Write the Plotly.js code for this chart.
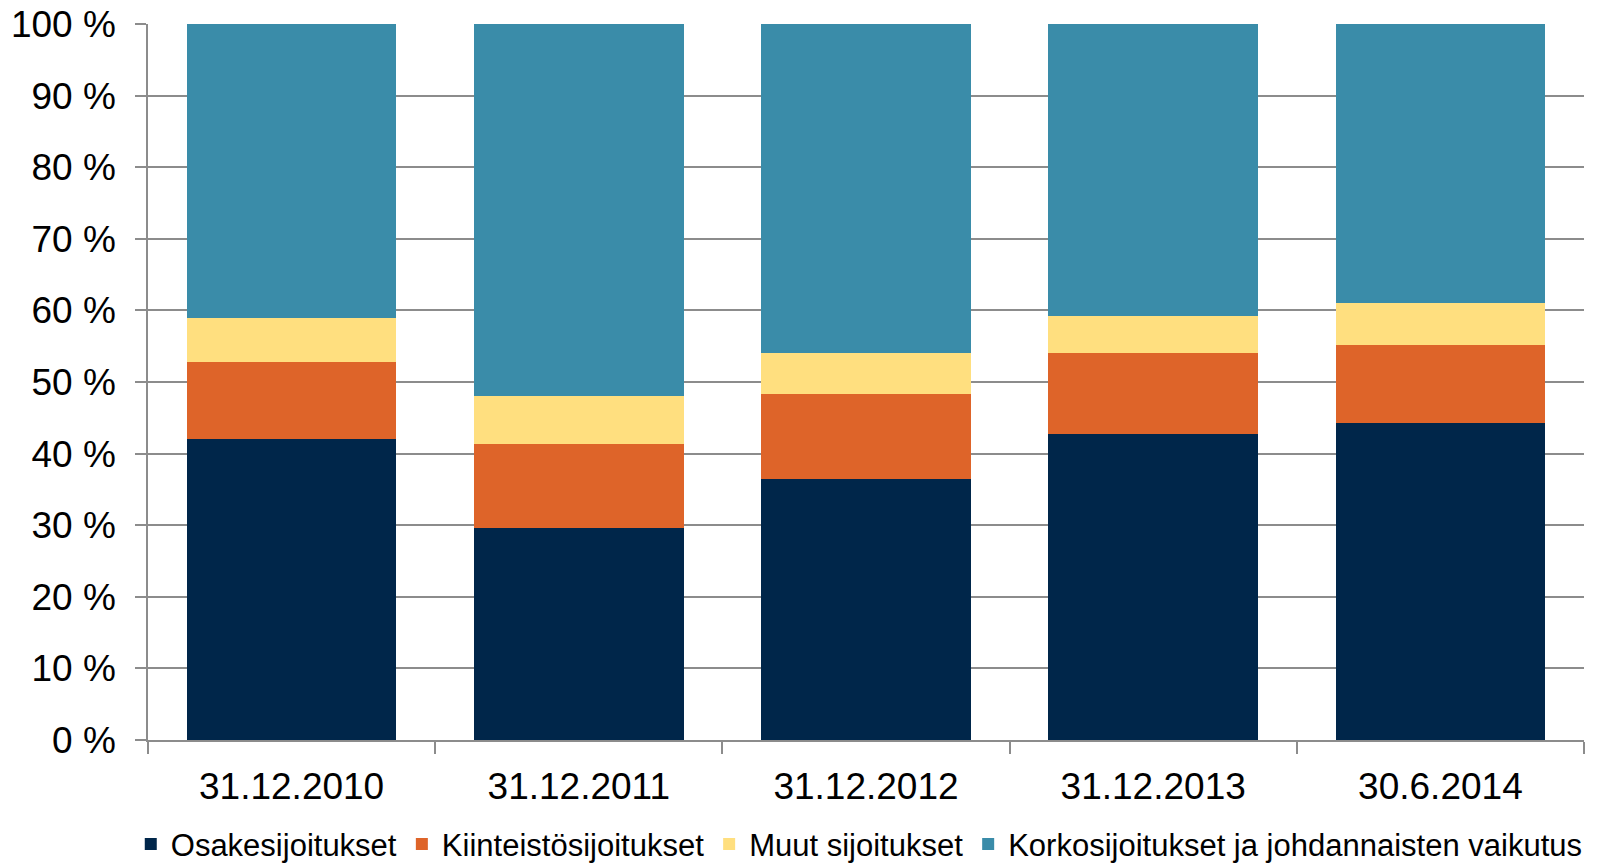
<!DOCTYPE html>
<html>
<head>
<meta charset="utf-8">
<script src="https://cdn.plot.ly/plotly-3.0.1.min.js"></script>
<style>html,body{margin:0;padding:0;background:#fff;}#chart{width:1597px;height:865px;}</style>
</head>
<body>
<div id="chart"></div>
<script>
const categories = ["31.12.2010", "31.12.2011", "31.12.2012", "31.12.2013", "30.6.2014"];
const seriesNames = ["Osakesijoitukset", "Kiinteistösijoitukset", "Muut sijoitukset", "Korkosijoitukset ja johdannaisten vaikutus"];
const osake = [42.0, 29.6, 36.5, 42.8, 44.3];
const kiinteisto = [10.8, 11.8, 11.8, 11.3, 10.8];
const muut = [6.1, 6.7, 5.7, 5.1, 5.9];
const korko = [41.1, 51.9, 46.0, 40.8, 39.0];
const yTicks = [0, 10, 20, 30, 40, 50, 60, 70, 80, 90, 100];
const yTickText = ["0 %", "10 %", "20 %", "30 %", "40 %", "50 %", "60 %", "70 %", "80 %", "90 %", "100 %"];

const colors = ["#00264A", "#DE6429", "#FFDF7F", "#3A8CA9"];
const values = [osake, kiinteisto, muut, korko];

const traces = values.map((v, i) => ({
  type: "bar",
  name: seriesNames[i],
  x: categories,
  y: v,
  marker: {color: colors[i], line: {width: 0}},
  hoverinfo: "x+y+name"
}));

const font = {family: "Liberation Sans, Arial, sans-serif", color: "#000"};

const layout = {
  width: 1597,
  height: 865,
  barmode: "stack",
  bargap: 0.27,
  paper_bgcolor: "#fff",
  plot_bgcolor: "#fff",
  margin: {l: 148, r: 13, t: 24, b: 125, autoexpand: false},
  font: font,
  showlegend: true,
  legend: {
    orientation: "h",
    x: -0.012, xanchor: "left",
    y: -0.108, yanchor: "top",
    traceorder: "normal",
    font: {family: font.family, size: 31, color: "#000"},
    itemclick: false
  },
  xaxis: {
    type: "category",
    automargin: false,
    showline: true,
    linecolor: "#8c8c8c",
    linewidth: 1.5,
    ticks: "outside",
    tickson: "boundaries",
    ticklen: 12,
    tickcolor: "#8c8c8c",
    tickwidth: 1.5,
    showgrid: false,
    tickfont: {family: font.family, size: 37, color: "#000"},
    ticklabelstandoff: 13
  },
  yaxis: {
    range: [0, 100],
    automargin: false,
    tickvals: yTicks,
    ticktext: yTickText,
    showline: true,
    linecolor: "#8c8c8c",
    linewidth: 1.5,
    ticks: "outside",
    ticklen: 11,
    tickcolor: "#8c8c8c",
    tickwidth: 1.5,
    showgrid: true,
    gridcolor: "#8c8c8c",
    gridwidth: 1.5,
    zeroline: false,
    tickfont: {family: font.family, size: 37, color: "#000"},
    ticklabelstandoff: 12
  }
};

Plotly.newPlot("chart", traces, layout, {displayModeBar: false});
</script>
</body>
</html>
